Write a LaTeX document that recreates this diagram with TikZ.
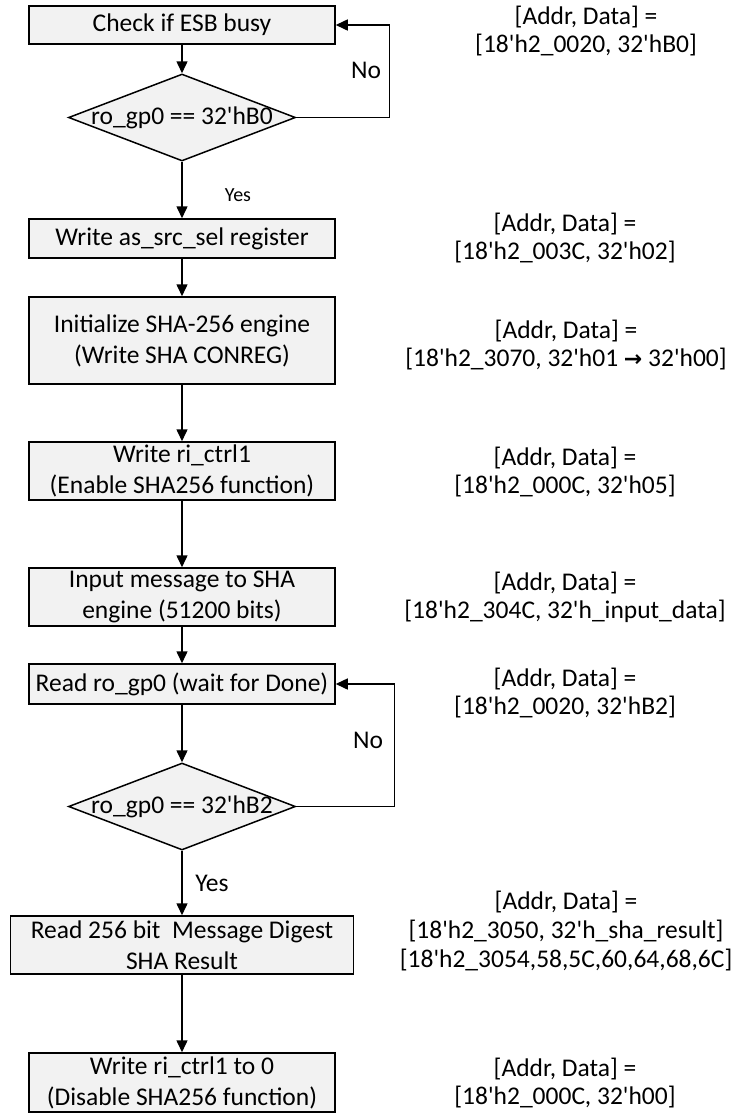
\documentclass[tikz,border=0pt]{standalone}
\usepackage{fontspec}
\setmainfont{Carlito}
\newfontfamily\symfont{DejaVu Sans}
\usetikzlibrary{arrows.meta,shapes.geometric}
\definecolor{boxgray}{HTML}{F2F2F2}
\newcommand{\myq}{\textquotesingle}
\begin{document}
\begin{tikzpicture}[x=1bp,y=-1bp,
  every node/.style={font=\fontsize{25.5bp}{31bp}\selectfont},
  procbox/.style={draw=black, fill=boxgray, line width=1.5bp, inner sep=0pt, align=center, minimum width=306bp},
  decision/.style={diamond, draw=black, fill=boxgray, line width=1.5bp, inner sep=0pt, minimum width=227bp, minimum height=87bp, aspect=2.61},
  flow/.style={line width=1.5bp, -{Triangle[length=12bp,width=11bp]}},
  note/.style={align=center, font=\fontsize{25.5bp}{28bp}\selectfont},
  smalltxt/.style={font=\fontsize{20bp}{24bp}\selectfont},
]
\useasboundingbox (0,0) rectangle (735,1113);

% flow boxes
\node[procbox, minimum height=38bp] (b1) at (182,25) {Check if ESB busy};
\node[decision, label=center:{ro\_gp0 == 32\myq hB0}] (d1) at (182,117.5) {};
\node[procbox, minimum height=39bp] (b2) at (182,238.5) {Write as\_src\_sel register};
\node[procbox, minimum height=87bp] (b3) at (182,340.5) {Initialize SHA-256 engine\\(Write SHA CONREG)};
\node[procbox, minimum height=58bp] (b4) at (182,471) {Write ri\_ctrl1\\(Enable SHA256 function)};
\node[procbox, minimum height=58bp] (b5) at (182,597) {Input message to SHA\\engine (51200 bits)};
\node[procbox, minimum height=40bp] (b6) at (182,684) {Read ro\_gp0 (wait for Done)};
\node[decision, label=center:{ro\_gp0 == 32\myq hB2}] (d2) at (182,806.5) {};
\node[procbox, minimum width=343bp, minimum height=58bp] (b7) at (182,945) {Read 256 bit\ \ Message Digest\\SHA Result};
\node[procbox, minimum height=59bp] (b8) at (182,1082.5) {Write ri\_ctrl1 to 0\\(Disable SHA256 function)};

% connectors
\draw[flow] (b1) -- (d1);
\draw[flow] (d1) -- (b2);
\draw[flow] (b2) -- (b3);
\draw[flow] (b3) -- (b4);
\draw[flow] (b4) -- (b5);
\draw[flow] (b5) -- (b6);
\draw[flow] (b6) -- (d2);
\draw[flow] (d2) -- (b7);
\draw[flow] (b7) -- (b8);
\draw[flow] (d1.east) -- ++(93,0) |- (b1.east);
\draw[flow] (d2.east) -- ++(98,0) |- (b6.east);

% branch labels
\node (n1) at (366,70) {No};
\node[smalltxt] (y1) at (238,195) {Yes};
\node (n2) at (368,740) {No};
\node (y2) at (212,883) {Yes};

% address notes
\node[note] (a1) at (586,31) {[Addr, Data] =\\{}[18\myq h2\_0020, 32\myq hB0]};
\node[note] (a2) at (565,238) {[Addr, Data] =\\{}[18\myq h2\_003C, 32\myq h02]};
\node[note] (a3) at (566,345) {[Addr, Data] =\\{}[18\myq h2\_3070, 32\myq h01 {\symfont\bfseries\fontsize{22bp}{28bp}\selectfont →} 32\myq h00]};
\node[note] (a4) at (565,472) {[Addr, Data] =\\{}[18\myq h2\_000C, 32\myq h05]};
\node[note] (a5) at (565,597) {[Addr, Data] =\\{}[18\myq h2\_304C, 32\myq h\_input\_data]};
\node[note] (a6) at (565,693) {[Addr, Data] =\\{}[18\myq h2\_0020, 32\myq hB2]};
\node[note, font=\fontsize{25.5bp}{29bp}\selectfont] (a7) at (566,931) {[Addr, Data] =\\{}[18\myq h2\_3050, 32\myq h\_sha\_result]\\{}[18\myq h2\_3054,58,5C,60,64,68,6C]};
\node[note] (a8) at (565,1083) {[Addr, Data] =\\{}[18\myq h2\_000C, 32\myq h00]};
\end{tikzpicture}
\end{document}
